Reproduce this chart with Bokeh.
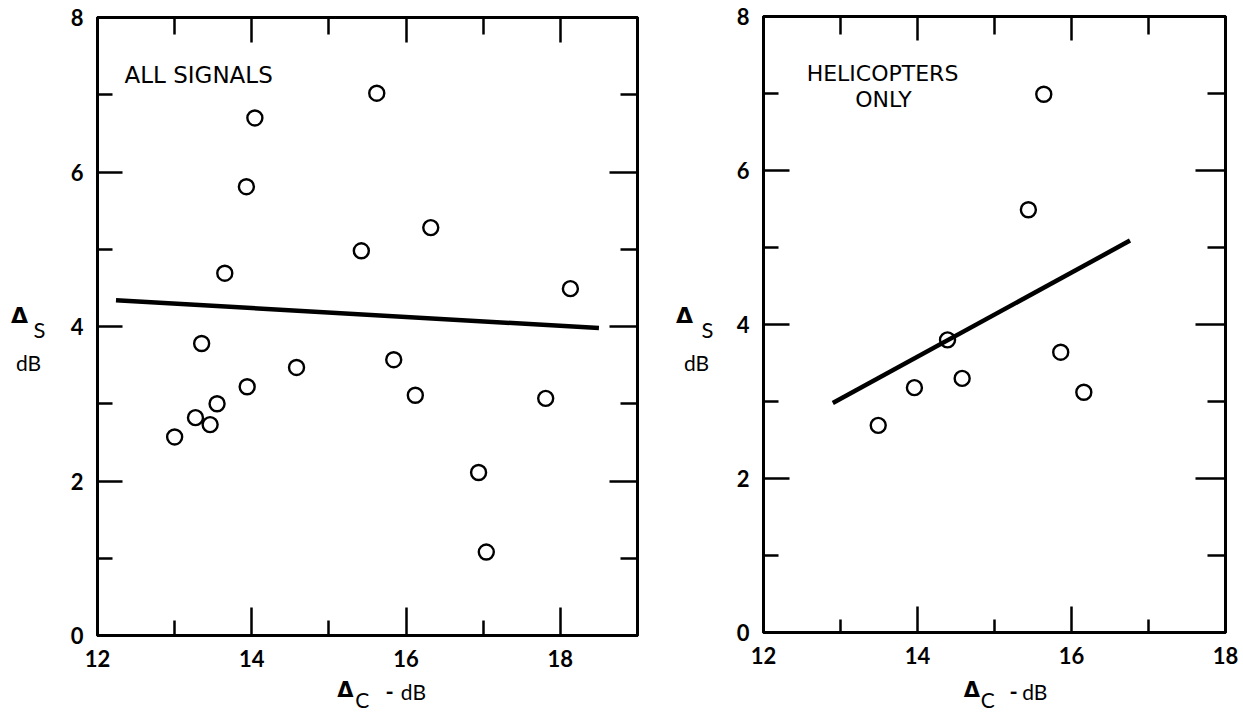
from bokeh.plotting import figure
from bokeh.layouts import row, column
from bokeh.models import LinearAxis, FixedTicker, Label, Range1d, Grid
from bokeh.embed import file_html
from bokeh.resources import INLINE

# ---- data ----
all_x = [13.00, 13.27, 13.46, 13.55, 13.35, 13.65, 13.93, 14.04, 13.94, 14.58,
         15.42, 15.62, 15.84, 16.32, 16.12, 16.94, 17.04, 17.81, 18.13]
all_y = [2.57, 2.82, 2.73, 3.00, 3.78, 4.69, 5.81, 6.70, 3.22, 3.47,
         4.98, 7.02, 3.57, 5.28, 3.11, 2.11, 1.08, 3.07, 4.49]
all_fit_x = [12.24, 18.50]
all_fit_y = [4.34, 3.98]

heli_x = [13.49, 13.96, 14.39, 14.58, 15.44, 15.64, 15.86, 16.16]
heli_y = [2.69, 3.18, 3.80, 3.30, 5.49, 6.99, 3.64, 3.12]
heli_fit_x = [12.90, 16.76]
heli_fit_y = [2.98, 5.09]

x_major = [12, 14, 16, 18]
x_minor = [13, 15, 17]
y_major = [0, 2, 4, 6, 8]
y_minor = [1, 3, 5, 7]

FONT = "Lato"
TFONT = "DejaVu Sans"
H = 712          # page height
MAIN_H = 676     # height of each plot canvas
LAB_W = 55       # width of the y-label strip


def no_grid(f):
    for r in list(f.center):
        if isinstance(r, Grid):
            r.visible = False


def text_fig(w, h, texts, ox, oy):
    """A blank canvas used only to carry axis-title texts (pixel coordinates)."""
    t = figure(width=w, height=h, x_range=Range1d(0, w), y_range=Range1d(h, 0),
               min_border=0, output_backend="svg", toolbar_location=None,
               x_axis_location=None, y_axis_location=None)
    no_grid(t)
    t.outline_line_color = None
    t.background_fill_color = "white"
    t.border_fill_color = "white"
    for (txt, px, py, size, style, align, font) in texts:
        t.add_layout(Label(x=px - ox, y=py - oy, text=txt, text_font=font,
                           text_font_size=size, text_font_style=style,
                           text_align=align, text_baseline="middle",
                           text_color="black"))
    return t


def make_panel(xr, fl, ft, fw, fh, total_w, ticks, xs, ys, fx, fy,
               inner_texts, canvas_left):
    p = figure(width=total_w, height=MAIN_H,
               frame_width=fw, frame_height=fh,
               x_range=Range1d(*xr), y_range=Range1d(0, 8),
               min_border_left=fl, min_border_right=total_w - fl - fw,
               min_border_top=ft, min_border_bottom=MAIN_H - ft - fh,
               output_backend="svg", toolbar_location=None,
               x_axis_location=None, y_axis_location=None)
    no_grid(p)
    p.outline_line_color = "black"
    p.outline_line_width = 3
    p.background_fill_color = "white"
    p.border_fill_color = "white"

    def axis(side, major, minor, tin, tmin, labels):
        ax = LinearAxis(ticker=FixedTicker(ticks=major, minor_ticks=minor))
        ax.axis_line_color = "black"
        ax.axis_line_width = 3
        ax.major_tick_in = tin
        ax.major_tick_out = 0
        ax.minor_tick_in = tmin
        ax.minor_tick_out = 0
        ax.major_tick_line_width = 2.5
        ax.minor_tick_line_width = 2.5
        ax.major_tick_line_color = "black"
        ax.minor_tick_line_color = "black"
        if labels:
            ax.major_label_text_font = FONT
            ax.major_label_text_font_style = "bold"
            ax.major_label_text_font_size = "22px"
            ax.major_label_text_color = "black"
            ax.major_label_standoff = 14
        else:
            ax.major_label_text_alpha = 0
            ax.major_label_text_font_size = "1px"
            ax.major_label_standoff = 0
        p.add_layout(ax, side)

    axis("below", x_major, x_minor, ticks["b"][0], ticks["b"][1], True)
    axis("above", x_major, x_minor, ticks["t"][0], ticks["t"][1], False)
    axis("left", y_major, y_minor, ticks["l"][0], ticks["l"][1], True)
    axis("right", y_major, y_minor, ticks["r"][0], ticks["r"][1], False)

    p.line(fx, fy, line_color="black", line_width=4.5)
    p.scatter(xs, ys, marker="circle", size=15, fill_color=None,
              line_color="black", line_width=2.4)

    for (txt, px, py, size, style, align, font) in inner_texts:
        x = xr[0] + (px - canvas_left - fl) / fw * (xr[1] - xr[0])
        y = 8 - (py - ft) / fh * 8
        p.add_layout(Label(x=x, y=y, text=txt, text_font=font,
                           text_font_size=size, text_font_style=style,
                           text_align=align, text_baseline="middle",
                           text_color="black"))
    return p


# texts: (text, page_x, page_y, size, style, align, font)
left_inner = [("ALL SIGNALS", 124, 74, "23px", "normal", "left", TFONT)]
left_ylab = [
    ("Δ", 19, 315, "22px", "bold", "center", "DejaVu Sans"),
    ("S", 39, 329, "22px", "normal", "center", FONT),
    ("dB", 28, 362, "21px", "normal", "center", FONT),
]
left_xlab = [
    ("Δ", 336, 689, "21px", "bold", "center", "DejaVu Sans"),
    ("C", 355, 699, "21px", "normal", "center", FONT),
    ("-", 386, 691, "22px", "bold", "center", FONT),
    ("dB", 413, 691, "21px", "normal", "center", FONT),
]
right_inner = [
    ("HELICOPTERS", 882, 73, "22px", "normal", "center", TFONT),
    ("ONLY", 883, 99, "22px", "normal", "center", TFONT),
]
right_ylab = [
    ("Δ", 684, 315, "22px", "bold", "center", "DejaVu Sans"),
    ("S", 707, 329, "22px", "normal", "center", FONT),
    ("dB", 696, 362, "21px", "normal", "center", FONT),
]
right_xlab = [
    ("Δ", 957, 689, "21px", "bold", "center", "DejaVu Sans"),
    ("C", 975, 699, "21px", "normal", "center", FONT),
    ("-", 1004, 691, "22px", "bold", "center", FONT),
    ("dB", 1028, 691, "21px", "normal", "center", FONT),
]

# left panel: page x 0..667 ; right panel: page x 667..1243
L0, L1 = 0, LAB_W
R0 = 667
R1 = R0 + LAB_W
main1_w = R0 - L1          # 612
main2_w = 1243 - R1        # 521

ylab1 = text_fig(LAB_W, H, left_ylab, L0, 0)
main1 = make_panel((12, 19), 97 - L1, 17, 540, 618, main1_w,
                   {"b": (28, 15), "t": (25, 17), "l": (25, 15), "r": (28, 17)},
                   all_x, all_y, all_fit_x, all_fit_y, left_inner, L1)
xlab1 = text_fig(main1_w, H - MAIN_H, left_xlab, L1, MAIN_H)

ylab2 = text_fig(LAB_W, H, right_ylab, R0, 0)
main2 = make_panel((12, 18), 763 - R1, 16, 462, 616, main2_w,
                   {"b": (26, 13), "t": (24, 18), "l": (26, 15), "r": (30, 18)},
                   heli_x, heli_y, heli_fit_x, heli_fit_y, right_inner, R1)
xlab2 = text_fig(main2_w, H - MAIN_H, right_xlab, R1, MAIN_H)

layout = row(ylab1, column(main1, xlab1), ylab2, column(main2, xlab2))
open("out.html", "w").write(file_html(layout, INLINE))
